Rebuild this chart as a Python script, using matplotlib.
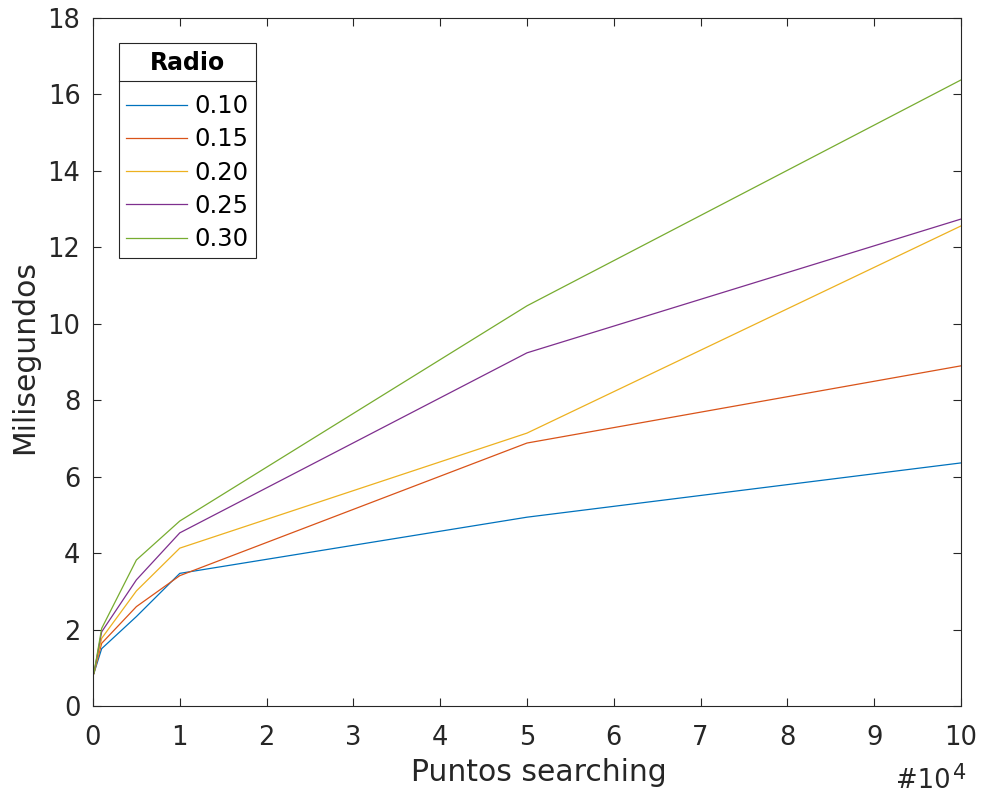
import matplotlib
matplotlib.use("Agg")
import matplotlib.pyplot as plt
from matplotlib.lines import Line2D

x_vals = [0.01, 0.1, 0.5, 1, 5, 10]
radio_labels = ["0.10", "0.15", "0.20", "0.25", "0.30"]
series = {
    "0.10": [0.85, 1.50, 2.34, 3.47, 4.94, 6.36],
    "0.15": [0.85, 1.64, 2.60, 3.41, 6.88, 8.90],
    "0.20": [0.85, 1.77, 3.01, 4.13, 7.14, 12.56],
    "0.25": [0.85, 1.94, 3.30, 4.53, 9.24, 12.74],
    "0.30": [0.85, 2.03, 3.82, 4.84, 10.47, 16.38],
}
colors = ["#0072BD", "#D95319", "#EDB120", "#7E2F8E", "#77AC30"]
xticks = list(range(0, 11))
yticks = list(range(0, 19, 2))

fig = plt.figure(figsize=(9.84, 7.98), dpi=100)
ax = fig.add_axes([0.0945, 0.1153, 0.8821, 0.8621])
for lab, c in zip(radio_labels, colors):
    ax.plot(x_vals, series[lab], color=c, lw=0.9, label=lab)

ax.set_xlim(0, 10)
ax.set_ylim(0, 18)
ax.set_xticks(xticks)
ax.set_yticks(yticks)
dark = "#262626"
ax.tick_params(direction="in", length=6, width=0.8, top=True, right=True,
               labelsize=18.5, colors=dark)
ax.tick_params(axis="x", pad=14)
ax.tick_params(axis="y", pad=9)
for s in ax.spines.values():
    s.set_color(dark)
    s.set_linewidth(0.8)
ax.set_xlabel("Puntos searching", fontsize=21.5, color=dark)
ax.set_ylabel("Milisegundos", fontsize=21.5, color=dark)
ax.xaxis.set_label_coords(0.514, -0.075)
ax.yaxis.set_label_coords(-0.062, 0.507)

leg = ax.legend(title="Radio", loc="upper left", bbox_to_anchor=(0.03, 0.963),
                fontsize=17.5, title_fontproperties={"weight": "bold", "size": 17},
                fancybox=False, framealpha=1, edgecolor=dark,
                handlelength=2.5, handletextpad=0.3, labelspacing=0.38,
                borderpad=0.3, borderaxespad=0)
leg.get_frame().set_linewidth(0.8)
leg._legend_box.sep = 14

base_txt = fig.text(896 / 984, 1 - 788 / 798, "#10", fontsize=18.5, color=dark,
                    ha="left", va="baseline")

fig.canvas.draw()
r = fig.canvas.get_renderer()
bb = base_txt.get_window_extent(r)
fig.text((bb.x1 + 2) / fig.bbox.width, 1 - 779 / 798, "4", fontsize=15,
         color=dark, ha="left", va="baseline")

lb = leg.get_window_extent(r)
tb = leg.get_title().get_window_extent(r)
ysep = tb.y0 - 6
fig.add_artist(Line2D([lb.x0 / fig.bbox.width, lb.x1 / fig.bbox.width],
                      [ysep / fig.bbox.height, ysep / fig.bbox.height],
                      color=dark, lw=0.8, transform=fig.transFigure))

fig.savefig("out.png", dpi=100)
